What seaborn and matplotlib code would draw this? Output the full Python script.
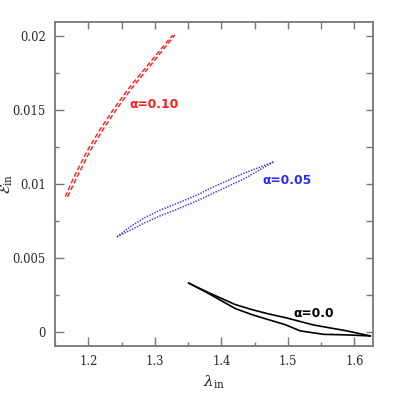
import numpy as np
import pandas as pd
import matplotlib
matplotlib.use("Agg")
import matplotlib.pyplot as plt
import seaborn as sns
from matplotlib.ticker import MultipleLocator

# ---- data ----
red_lam_a = [1.1654, 1.1779, 1.1980, 1.2180, 1.2380, 1.2606, 1.2962, 1.3268]
red_eps_a = [0.00913, 0.01040, 0.01220, 0.01370, 0.01505, 0.01645, 0.01840, 0.02006]
red_lam_b = [1.1690, 1.1824, 1.2025, 1.2225, 1.2425, 1.2651, 1.3005, 1.3300]
red_eps_b = [0.00913, 0.01040, 0.01220, 0.01370, 0.01505, 0.01645, 0.01840, 0.02006]

blue_lam_a = [1.2432, 1.2632, 1.2832, 1.3083, 1.3334, 1.3659, 1.3835, 1.4335, 1.4786]
blue_eps_a = [0.00642, 0.00710, 0.00767, 0.00823, 0.00868, 0.00929, 0.00970, 0.01071, 0.01149]
blue_lam_b = [1.2432, 1.2632, 1.2832, 1.3083, 1.3334, 1.3659, 1.3835, 1.4335, 1.4786]
blue_eps_b = [0.00642, 0.00686, 0.00733, 0.00784, 0.00828, 0.00890, 0.00928, 0.01032, 0.01149]

black_lam_a = [1.3508, 1.3654, 1.3809, 1.4211, 1.4462, 1.4711, 1.4962, 1.5388, 1.5890, 1.6241]
black_eps_a = [0.00329, 0.00297, 0.00264, 0.00183, 0.00149, 0.00120, 0.00095, 0.00045, 0.00005, -0.00029]
black_lam_b = [1.3508, 1.3654, 1.3809, 1.4211, 1.4462, 1.4711, 1.4962, 1.5188, 1.5538, 1.5890, 1.6241]
black_eps_b = [0.00329, 0.00295, 0.00258, 0.00156, 0.00115, 0.00081, 0.00047, 0.00005, -0.00018, -0.00022, -0.00029]

labels = ["α=0.10", "α=0.05", "α=0.0"]
label_pos_lam = [1.262, 1.462, 1.508]
label_pos_eps = [0.01535, 0.01021, 0.00125]

xtick_vals = [1.2, 1.3, 1.4, 1.5, 1.6]
xtick_labels = ["1.2", "1.3", "1.4", "1.5", "1.6"]
ytick_vals = [0.0, 0.005, 0.01, 0.015, 0.02]
ytick_labels = ["0", "0.005", "0.01", "0.015", "0.02"]

sns.set_theme(style="ticks")
plt.rcParams["font.family"] = ["DejaVu Serif"]
plt.rcParams["mathtext.fontset"] = "dejavuserif"

fig = plt.figure(figsize=(3.95, 3.95), dpi=100)
ax = fig.add_axes([55/395, 1-346/395, 318/395, 324/395])

def branch(lam, eps, **kw):
    df = pd.DataFrame({"lam": lam, "eps": eps})
    sns.lineplot(data=df, x="lam", y="eps", sort=False, estimator=None, ax=ax, **kw)

for l, e in [(red_lam_a, red_eps_a), (red_lam_b, red_eps_b)]:
    branch(l, e, color="#ff1a1a", lw=1.0, linestyle=(0, (3.5, 1.8)))
for l, e in [(blue_lam_a, blue_eps_a), (blue_lam_b, blue_eps_b)]:
    branch(l, e, color="#2a2aff", lw=1.0, linestyle=(0, (1, 1)))
for l, e in [(black_lam_a, black_eps_a), (black_lam_b, black_eps_b)]:
    branch(l, e, color="black", lw=1.2)

label_colors = ["#ff1a1a", "#2a2aff", "black"]
for t, x, y, c in zip(labels, label_pos_lam, label_pos_eps, label_colors):
    ax.text(x, y, t, color=c, fontsize=8.8, fontweight="bold",
            family=["DejaVu Sans"], ha="left", va="center")

ax.set_xlim(1.15, 1.628)
ax.set_ylim(-0.00097, 0.02095)
ax.set_xticks(xtick_vals, xtick_labels)
ax.set_yticks(ytick_vals, ytick_labels)
ax.xaxis.set_minor_locator(MultipleLocator(0.05))
ax.yaxis.set_minor_locator(MultipleLocator(0.0025))
ax.tick_params(which="major", direction="in", length=6.2, width=1.0, color="#777777",
               labelsize=8.3, pad=6.5, top=False, right=False)
ax.tick_params(which="minor", direction="in", length=2.6, width=1.0, color="#777777",
               top=False, right=False)

# top and right: all ticks equal length
sx = ax.secondary_xaxis("top")
sx.set_xticks(np.arange(1.2, 1.61, 0.05))
sx.tick_params(direction="in", length=5, width=1.0, color="#777777", labeltop=False)
sx.spines["top"].set_visible(False)
sy = ax.secondary_yaxis("right")
sy.set_yticks(np.arange(0.0, 0.0201, 0.0025))
sy.tick_params(direction="in", length=5, width=1.0, color="#777777", labelright=False)
sy.spines["right"].set_visible(False)

for s in ax.spines.values():
    s.set_color("#777777")
    s.set_linewidth(1.3)
    s.set_visible(True)

ax.set_xlabel(r"$\lambda_{\rm in}$", fontsize=11, labelpad=4)
ax.set_ylabel(r"$\mathcal{E}_{\rm in}$", fontsize=11)
ax.yaxis.set_label_coords(-0.125, 0.5)

fig.savefig("out.png", dpi=100)
